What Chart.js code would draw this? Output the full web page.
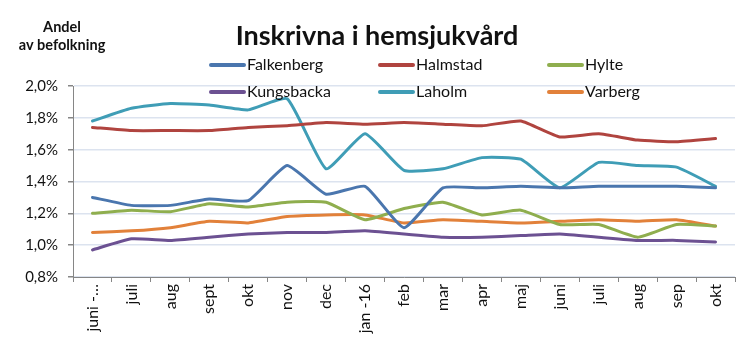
<!DOCTYPE html>
<html lang="sv">
<head>
    <meta charset="UTF-8">
    <title>Inskrivna i hemsjukvård</title>
    <script src="https://cdn.jsdelivr.net/npm/chart.js"></script>
    <style>
        body { margin: 0; background: #fff; }
        .chart-box { position: relative; width: 751px; height: 341px; }
    </style>
</head>
<body>
    <div class="chart-box">
        <canvas id="hemsjukvardChart"></canvas>
    </div>

    <script>
        // Månader (juni 2015 - okt 2016)
        const months = ['juni -…', 'juli', 'aug', 'sept', 'okt', 'nov', 'dec', 'jan -16', 'feb',
                        'mar', 'apr', 'maj', 'juni', 'juli', 'aug', 'sep', 'okt'];

        // Andel av befolkningen, procent
        const falkenberg = [1.30, 1.25, 1.25, 1.29, 1.28, 1.50, 1.32, 1.37, 1.11, 1.36, 1.36, 1.37, 1.36, 1.37, 1.37, 1.37, 1.36];
        const halmstad   = [1.74, 1.72, 1.72, 1.72, 1.74, 1.75, 1.77, 1.76, 1.77, 1.76, 1.75, 1.78, 1.68, 1.70, 1.66, 1.65, 1.67];
        const hylte      = [1.20, 1.22, 1.21, 1.26, 1.24, 1.27, 1.27, 1.16, 1.23, 1.27, 1.19, 1.22, 1.13, 1.13, 1.05, 1.13, 1.12];
        const kungsbacka = [0.97, 1.04, 1.03, 1.05, 1.07, 1.08, 1.08, 1.09, 1.07, 1.05, 1.05, 1.06, 1.07, 1.05, 1.03, 1.03, 1.02];
        const laholm     = [1.78, 1.86, 1.89, 1.88, 1.85, 1.92, 1.48, 1.70, 1.47, 1.48, 1.55, 1.54, 1.36, 1.52, 1.50, 1.49, 1.37];
        const varberg    = [1.08, 1.09, 1.11, 1.15, 1.14, 1.18, 1.19, 1.19, 1.14, 1.16, 1.15, 1.14, 1.15, 1.16, 1.15, 1.16, 1.12];

        const yTicks = { min: 0.8, max: 2.0, step: 0.2 };

        const FONT = 'Lato, "Open Sans", sans-serif';

        function series(label, data, color) {
            return {
                label: label,
                data: data,
                borderColor: color,
                backgroundColor: color,
                borderWidth: 3,
                pointRadius: 0,
                tension: 0.15,
                borderCapStyle: 'round'
            };
        }

        // Titel, axeltext och förklaring ritas direkt på canvasen
        const decorations = {
            id: 'decorations',
            afterDraw(chart) {
                const ctx = chart.ctx;
                ctx.save();
                ctx.fillStyle = '#111';
                ctx.textBaseline = 'middle';

                ctx.textAlign = 'center';
                ctx.font = 'bold 27px ' + FONT;
                ctx.fillText('Inskrivna i hemsjukvård', 377, 36);

                ctx.font = 'bold 14.5px ' + FONT;
                ctx.fillText('Andel', 62, 27);
                ctx.fillText('av befolkning', 62, 45);

                // förklaring i två rader med tre kolumner
                ctx.textAlign = 'left';
                ctx.font = '16px ' + FONT;
                chart.data.datasets.forEach((ds, i) => {
                    const x = 211 + (i % 3) * 169;
                    const y = i < 3 ? 65 : 92;
                    ctx.strokeStyle = ds.borderColor;
                    ctx.lineWidth = 4;
                    ctx.lineCap = 'round';
                    ctx.beginPath();
                    ctx.moveTo(x, y);
                    ctx.lineTo(x + 33, y);
                    ctx.stroke();
                    ctx.fillText(ds.label, x + 36, y);
                });
                ctx.restore();
            }
        };

        const ctx = document.getElementById('hemsjukvardChart').getContext('2d');
        const hemsjukvardChart = new Chart(ctx, {
            type: 'line',
            data: {
                labels: months,
                datasets: [
                    series('Falkenberg', falkenberg, '#4a76ae'),
                    series('Halmstad', halmstad, '#b0443f'),
                    series('Hylte', hylte, '#8fae4e'),
                    series('Kungsbacka', kungsbacka, '#6c5192'),
                    series('Laholm', laholm, '#3f9db6'),
                    series('Varberg', varberg, '#e2813a')
                ]
            },
            options: {
                responsive: true,
                maintainAspectRatio: false,
                animation: false,
                layout: { padding: { top: 86, right: 16, left: 0, bottom: 0 } },
                plugins: {
                    legend: { display: false },
                    title: { display: false },
                    tooltip: { enabled: false }
                },
                scales: {
                    x: {
                        offset: true,
                        afterFit(scale) { scale.height = 64; },
                        grid: {
                            display: true,
                            drawOnChartArea: false,
                            offset: true,
                            tickLength: 5,
                            tickColor: '#868686'
                        },
                        border: { color: '#868686', width: 1 },
                        ticks: {
                            autoSkip: false,
                            minRotation: 90,
                            maxRotation: 90,
                            padding: 2,
                            color: '#111',
                            font: { family: FONT, size: 16 }
                        }
                    },
                    y: {
                        min: yTicks.min,
                        max: yTicks.max,
                        afterFit(scale) { scale.width = 73; },
                        grid: {
                            color: '#dce3ef',
                            lineWidth: 1.5,
                            tickLength: 5,
                            tickColor: '#868686'
                        },
                        border: { color: '#868686', width: 1 },
                        ticks: {
                            stepSize: yTicks.step,
                            padding: 10,
                            color: '#111',
                            font: { family: FONT, size: 15 },
                            callback: v => v.toFixed(1).replace('.', ',') + '%'
                        }
                    }
                }
            },
            plugins: [decorations]
        });
    </script>
</body>
</html>
